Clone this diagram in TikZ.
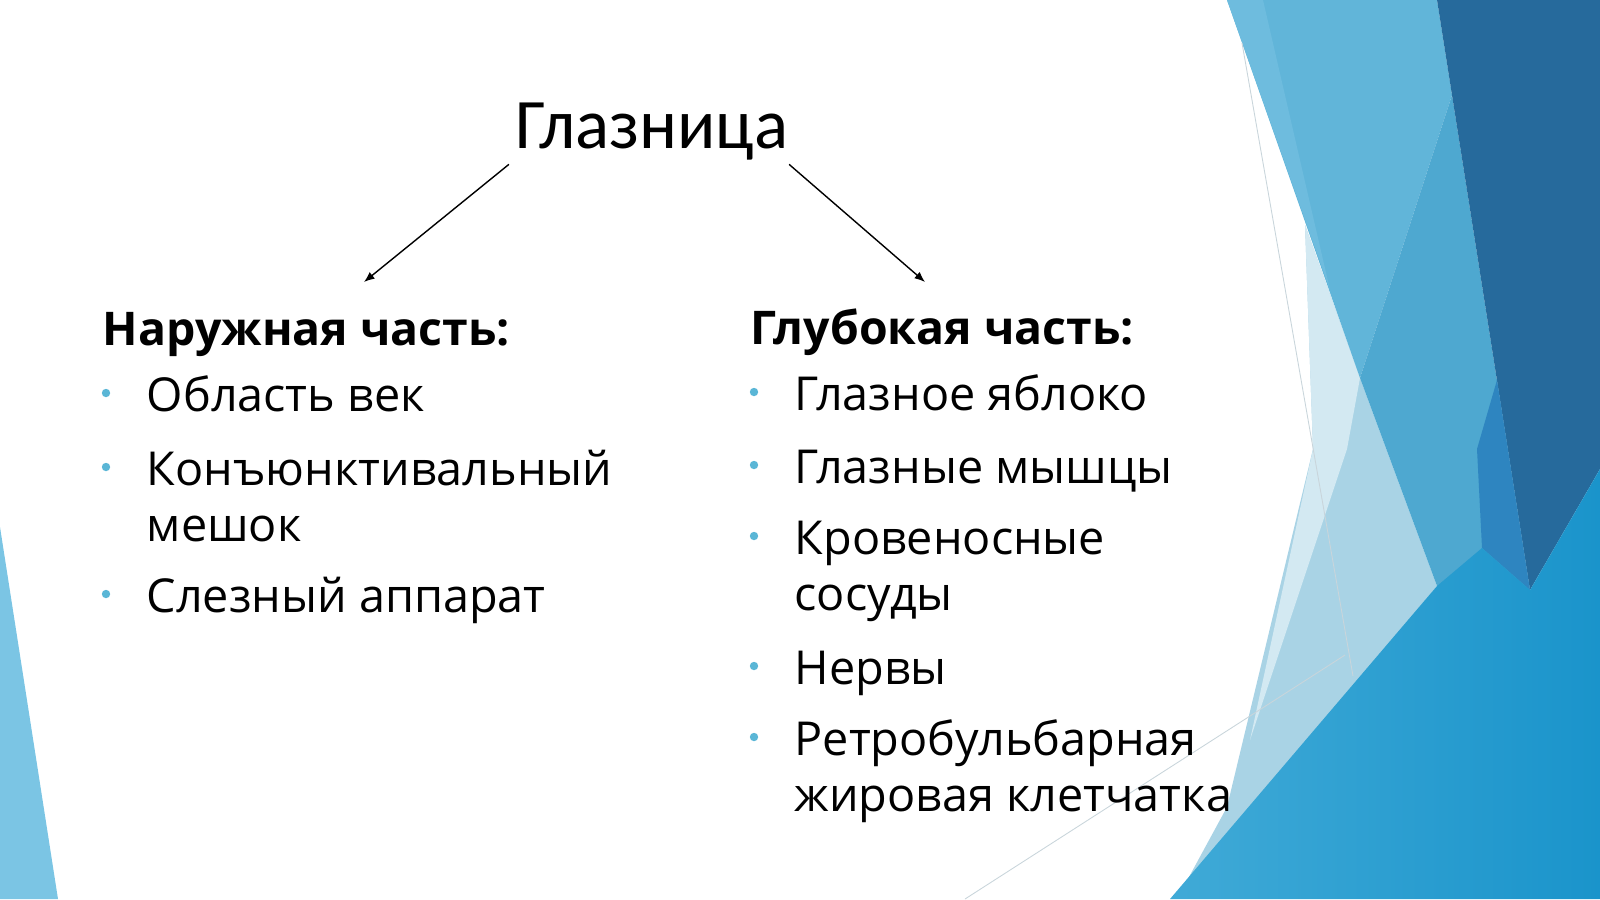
\documentclass[tikz,border=0pt]{standalone}
\usepackage{fontspec}
\setmainfont{Open Sans}
\newfontfamily\titelfont{Carlito}
\usetikzlibrary{arrows.meta,calc}
\definecolor{linksblau}{HTML}{7BC5E4}
\definecolor{hellblau}{HTML}{61B5D9}
\definecolor{streifblau}{HTML}{6EBCDE}
\definecolor{mittelblau}{HTML}{4EA8D0}
\definecolor{marine}{HTML}{266A9C}
\definecolor{blassblau}{HTML}{A9D3E5}
\definecolor{eisblau}{HTML}{D3E9F2}
\definecolor{tiefblau}{HTML}{2E85C0}
\definecolor{grundblau}{HTML}{1A94CB}
\definecolor{randblau}{HTML}{40AAD7}
\definecolor{punktblau}{HTML}{5AB6D6}
\definecolor{faden}{HTML}{C9D5DB}

\begin{document}
\begin{tikzpicture}[x=0.01cm,y=-0.01cm,
  titel/.style={anchor=base,inner sep=0pt,font=\titelfont\fontsize{20.2}{24}\selectfont},
  kopf/.style={anchor=base west,inner sep=0pt,font=\fontsize{13.2}{15.9}\selectfont\bfseries},
  punkt/.style={anchor=base west,inner sep=0pt,align=left,font=\fontsize{13.3}{15.9}\selectfont},
  pfeil/.style={-{Latex[length=3pt,width=2.4pt]},line width=0.4pt}]
  \useasboundingbox (0,0) rectangle (1600,899);
  % background facets
  \fill[linksblau] (0,527) -- (58,899) -- (0,899) -- cycle;
  \fill[blassblau] (1305,225) -- (1360,378) -- (1437,586) -- (1177,899)
    -- (1227,807) -- (1313,449) -- cycle;
  \fill[eisblau] (1305,225) -- (1360,378) -- (1347,449) -- (1250,740)
    -- (1313,449) -- cycle;
  \fill[hellblau] (1227,0) -- (1437,0) -- (1452,95) -- (1360,378) -- cycle;
  \fill[streifblau] (1227,0) -- (1263,0) -- (1330,290) -- cycle;
  \fill[mittelblau] (1452,95) -- (1530,590) -- (1437,586) -- (1360,378) -- cycle;
  \fill[marine] (1437,0) -- (1600,0) -- (1600,469) -- (1530,590) -- cycle;
  \fill[tiefblau] (1497,380) -- (1530,590) -- (1482,548) -- (1477,449) -- cycle;
  \shade[left color=randblau,right color=grundblau]
    (1170,899) -- (1437,586) -- (1482,548) -- (1530,590) -- (1600,469)
    -- (1600,899) -- cycle;
  \draw[faden,line width=0.25pt] (1242,43) -- (1353,676);
  \draw[faden,line width=0.25pt] (1345,655) -- (965,899);

  % title and arrows
  \node[titel] (glaz) at (652,148) {Глазница};
  \coordinate (ziel-a) at (364,282);
  \coordinate (ziel-t) at (925,282);
  \draw[pfeil] ($(glaz.south west)+(-6,4)$) -- (ziel-a);
  \draw[pfeil] ($(glaz.south east)+(0,4)$) -- (ziel-t);

  % outer part
  \node[kopf] (aussen) at (102,345) {Наружная часть:};
  \node[punkt] (a1) at (146,411) {Область век};
  \node[punkt] (a2) at (146,541) {Конъюнктивальный\\мешок};
  \node[punkt] (a3) at (146,612) {Слезный аппарат};

  % deep part
  \node[kopf] (tief) at (750,344) {Глубокая часть:};
  \node[punkt] (t1) at (794,410) {Глазное яблоко};
  \node[punkt] (t2) at (794,483) {Глазные мышцы};
  \node[punkt] (t3) at (794,610) {Кровеносные\\сосуды};
  \node[punkt] (t4) at (794,684) {Нервы};
  \node[punkt] (t5) at (794,811) {Ретробульбарная\\жировая клетчатка};

  % bullets, lifted one line for the two-line items
  \foreach \n/\z in {a1/0,a2/1,a3/0,t1/0,t2/0,t3/1,t4/0,t5/1}
    \fill[punktblau] ($(\n.base west)+(-40,-18-56*\z)$) circle[radius=4.2];
\end{tikzpicture}
\end{document}
